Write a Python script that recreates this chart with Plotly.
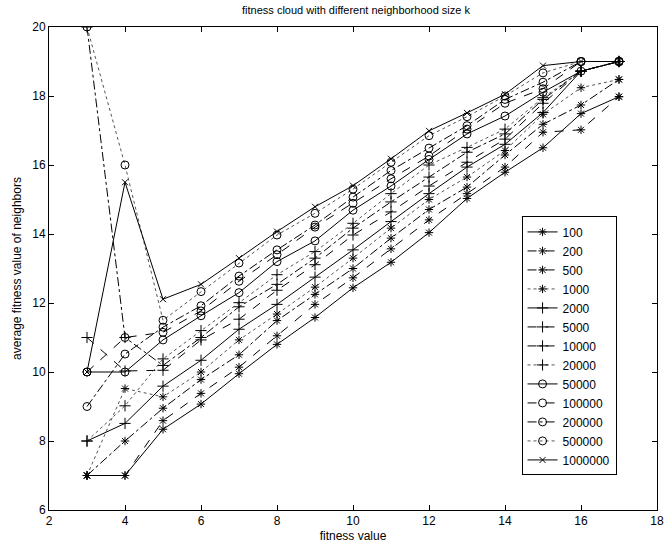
import plotly.graph_objects as go

fitness = [3, 4, 5, 6, 7, 8, 9, 10, 11, 12, 13, 14, 15, 16, 17]

k_labels = ["100", "200", "500", "1000", "2000", "5000", "10000", "20000",
            "50000", "100000", "200000", "500000", "1000000"]

k100     = [7, 7, 8.34, 9.07, 9.95, 10.8, 11.58, 12.44, 13.18, 14.04, 15.03, 15.79, 16.5, 17.49, 17.98]
k200     = [7, 7, 8.59, 9.38, 10.14, 11.05, 11.96, 12.73, 13.57, 14.41, 15.17, 15.94, 16.95, 17.02, 17.98]
k500     = [7, 8, 8.95, 9.78, 10.5, 11.49, 12.25, 13.0, 13.88, 14.71, 15.36, 16.29, 17.18, 17.74, 18.48]
k1000    = [7, 9.52, 9.28, 10.0, 10.93, 11.68, 12.46, 13.3, 14.17, 15.0, 15.65, 16.42, 17.47, 18.24, 18.48]
k2000    = [8, 8.51, 9.59, 10.34, 11.24, 11.96, 12.75, 13.54, 14.36, 15.17, 15.94, 16.6, 17.52, 18.72, 19]
k5000    = [11, 10.03, 10.05, 10.93, 11.53, 12.37, 13.11, 13.97, 14.64, 15.39, 16.08, 16.75, 17.79, 18.72, 19]
k10000   = [20, 11, 10.19, 11.0, 11.89, 12.54, 13.3, 14.17, 14.93, 15.65, 16.37, 16.9, 17.9, 18.72, 19]
k20000   = [8, 9.02, 10.38, 11.2, 12.01, 12.82, 13.49, 14.31, 15.17, 16.0, 16.51, 17.04, 17.95, 18.72, 19]
k50000   = [10, 10, 10.93, 11.63, 12.3, 13.2, 13.8, 14.69, 15.39, 16.16, 16.9, 17.42, 18.11, 18.72, 19]
k100000  = [10, 11, 11.15, 11.77, 12.63, 13.4, 14.2, 14.89, 15.6, 16.26, 17.04, 17.79, 18.21, 19, 19]
k200000  = [9, 10.52, 11.3, 11.92, 12.78, 13.54, 14.26, 15.07, 15.84, 16.49, 17.14, 17.9, 18.4, 19, 19]
k500000  = [20, 16, 11.5, 12.33, 13.16, 13.97, 14.6, 15.3, 16.08, 16.85, 17.4, 18.0, 18.67, 19, 19]
k1000000 = [10, 15.5, 12.11, 12.54, 13.3, 14.07, 14.79, 15.4, 16.18, 16.99, 17.51, 18.05, 18.88, 19, 19]

series = [k100, k200, k500, k1000, k2000, k5000, k10000, k20000,
          k50000, k100000, k200000, k500000, k1000000]

dashes = ["solid", "dash", "dashdot", "dot"]
symbols = ["asterisk-open"] * 4 + ["cross-thin-open"] * 4 + ["circle-open"] * 4 + ["x-thin-open"]
sizes = [7] * 4 + [8] * 4 + [8] * 4 + [6]

fig = go.Figure()
for i, (lab, ys) in enumerate(zip(k_labels, series)):
    d = dashes[i % 4]
    fig.add_trace(go.Scatter(
        x=fitness, y=ys, name=lab, mode="lines+markers",
        line=dict(color="#555555" if d == "dot" else "black", width=1, dash=d),
        marker=dict(symbol=symbols[i], size=sizes[i], color="black",
                    line=dict(color="black", width=1)),
    ))

axis_common = dict(showline=True, linecolor="black", linewidth=1, mirror="ticks",
                   ticks="inside", ticklen=5, tickcolor="black", showgrid=False,
                   zeroline=False, tickfont=dict(size=12, color="black"))

fig.update_layout(
    width=672, height=549,
    margin=dict(l=49, r=8, t=27, b=35),
    paper_bgcolor="white", plot_bgcolor="white",
    font=dict(family="Liberation Sans, Arial, sans-serif", size=12, color="black"),
    title=dict(text="fitness cloud with different neighborhood size k",
               x=(356 / 672), xanchor="center", y=1 - 10 / 549, yanchor="middle",
               font=dict(size=11)),
    xaxis=dict(range=[2, 18], tickvals=list(range(2, 19, 2)),
               title=dict(text="fitness value", font=dict(size=12), standoff=4), **axis_common),
    yaxis=dict(range=[6, 20], tickvals=list(range(6, 21, 2)),
               title=dict(text="average fitness value of neighbors", font=dict(size=12), standoff=8),
               **axis_common),
    legend=dict(x=(527 - 49) / 615, y=(514 - 218) / 487, xanchor="left", yanchor="top",
                bgcolor="white", bordercolor="black", borderwidth=1,
                font=dict(size=12), tracegroupgap=0, itemwidth=30),
    showlegend=True,
)

fig.write_html("out.html")
